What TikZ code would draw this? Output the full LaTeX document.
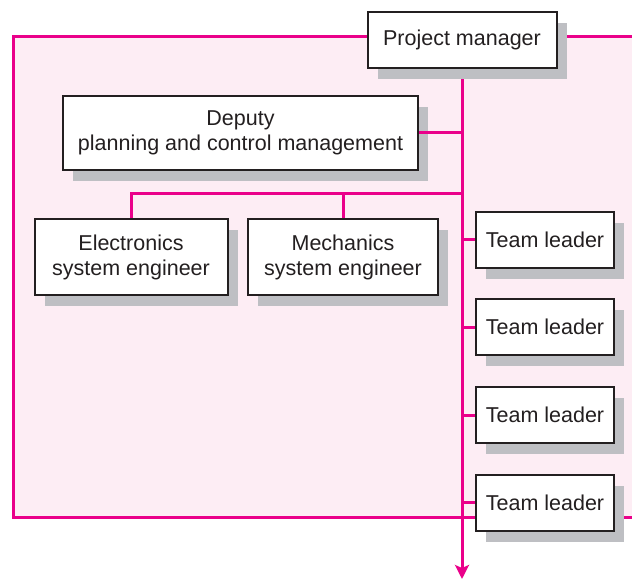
\documentclass[tikz,border=0pt]{standalone}
\usepackage{fontspec}
\setmainfont{Liberation Sans}
\usetikzlibrary{shadows,arrows.meta}
\definecolor{mag}{RGB}{234,0,138}
\definecolor{pinkbg}{RGB}{253,237,244}
\definecolor{shade}{RGB}{190,191,195}
\definecolor{ink}{RGB}{35,31,32}
\begin{document}
\begin{tikzpicture}[x=1pt,y=-1pt,
  box/.style={draw=ink,line width=2pt,fill=white,text=ink,align=center,
    inner sep=0pt,font=\fontsize{21.5}{25}\selectfont,
    drop shadow={shadow xshift=10pt,shadow yshift=-11pt,fill=shade,opacity=1}},
  link/.style={draw=mag,line width=3pt}]
\useasboundingbox (0,0) rectangle (632,580);
% background frame
\fill[pinkbg] (13,37) rectangle (632,517);
\draw[mag,line width=3pt] (632,37) -- (13,37) -- (13,517) -- (632,517);
% spine
\coordinate (spinetop) at (462,68);
\coordinate (spineend) at (462,579);
\coordinate (bus) at (462,194);
\draw[link,-{Stealth[length=14pt,width=14pt,inset=3pt]}] (spinetop) -- (spineend);
% nodes
\node[box,minimum width=189pt,minimum height=56pt] (pm) at (462,40) {Project manager};
\node[box,minimum width=355pt,minimum height=74pt] (dep) at (240.5,133) {Deputy\\planning and control management};
\node[box,minimum width=193pt,minimum height=75pt] (elec) at (131,257) {Electronics\\system engineer};
\node[box,minimum width=190pt,minimum height=75pt] (mech) at (343,257) {Mechanics\\system engineer};
\node[box,minimum width=138pt,minimum height=56pt] (tl1) at (545,240) {Team leader};
\node[box,minimum width=138pt,minimum height=56pt] (tl2) at (545,327) {Team leader};
\node[box,minimum width=138pt,minimum height=56pt] (tl3) at (545,415) {Team leader};
\node[box,minimum width=138pt,minimum height=56pt] (tl4) at (545,502.5) {Team leader};
% connectors
\draw[link] (dep.east) -- (dep.east -| spinetop);
\draw[link] (elec.north) |- (bus);
\draw[link] (mech.north) -- (mech.north |- bus);
\foreach \t in {tl1,tl2,tl3,tl4}
  \draw[link] (\t.west -| spinetop) -- (\t.west);
\end{tikzpicture}
\end{document}
